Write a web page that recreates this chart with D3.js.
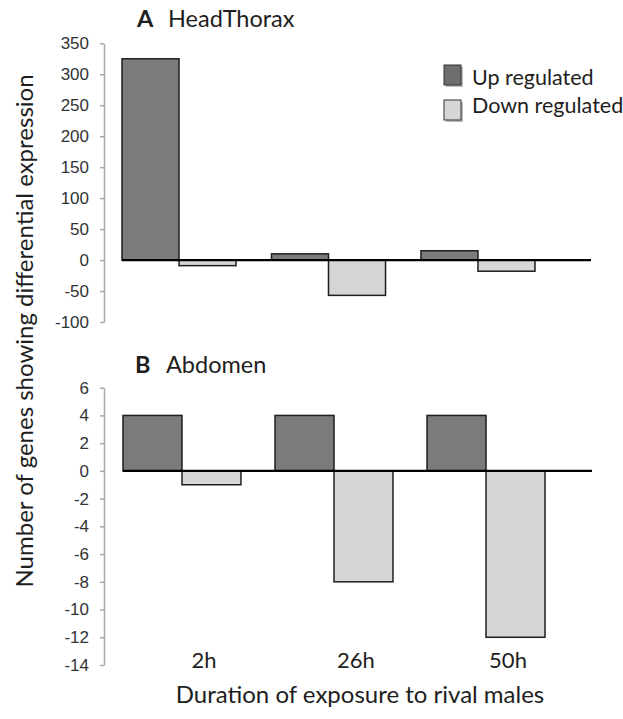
<!DOCTYPE html>
<html>
<head>
<meta charset="utf-8">
<script src="https://cdn.jsdelivr.net/npm/d3@7"></script>
<style>
  body { margin: 0; background: #fff; }
  svg { display: block; }
  .lbl { font-family: Lato, "Open Sans", sans-serif; fill: #1e1e1e; }
  .tick text { font-family: "Liberation Sans", Arial, sans-serif; font-size: 17px; fill: #333; }
</style>
</head>
<body>
<div id="chart"></div>
<script>
  // data
  var times = ["2h", "26h", "50h"]
  var headUp = [325, 10, 15]
  var headDown = [-9, -57, -18]
  var abdUp = [4, 4, 4]
  var abdDown = [-1, -8, -12]
  var headTicks = [-100, -50, 0, 50, 100, 150, 200, 250, 300, 350]
  var abdTicks = [-14, -12, -10, -8, -6, -4, -2, 0, 2, 4, 6]
  var seriesNames = ["Up regulated", "Down regulated"]

  var width = 623
  var height = 719
  var upFill = "#7b7b7b"
  var downFill = "#d6d6d6"

  var svg = d3.select("#chart")
    .append("svg")
    .attr("width", width)
    .attr("height", height)

  function panel(opts) {
    var g = svg.append("g")

    var y = d3.scaleLinear()
      .domain(opts.domain)
      .range(opts.yRange)

    var x = d3.scaleBand()
      .domain(times)
      .range(opts.xRange)
      .paddingInner(opts.pad)
      .paddingOuter(0)

    var sub = d3.scaleBand()
      .domain(["up", "down"])
      .range([0, x.bandwidth()])

    // y axis (plain hyphen minus like the original)
    var axis = g.append("g")
      .attr("transform", "translate(104,0)")
      .call(d3.axisLeft(y)
        .tickValues(opts.ticks)
        .tickFormat(function (d) { return String(d) })
        .tickSizeOuter(0).tickSizeInner(4).tickPadding(11))
    axis.select(".domain").attr("stroke", "#a8a8a8").attr("stroke-width", 1.5)
    axis.selectAll(".tick line").attr("stroke", "#a8a8a8").attr("stroke-width", 1.5)

    var rows = times.map(function (t, i) {
      return [{ t: t, k: "up", v: opts.up[i] }, { t: t, k: "down", v: opts.down[i] }]
    }).flat()

    g.selectAll("rect.bar")
      .data(rows)
      .enter()
      .append("rect")
      .attr("class", "bar")
      .attr("x", function (d) { return x(d.t) + sub(d.k) })
      .attr("width", sub.bandwidth())
      .attr("y", function (d) { return y(Math.max(0, d.v)) })
      .attr("height", function (d) { return Math.abs(y(d.v) - y(0)) })
      .attr("fill", function (d) { return d.k == "up" ? upFill : downFill })
      .attr("stroke", "#1e1e1e")
      .attr("stroke-width", 1.5)

    // zero line
    g.append("line")
      .attr("x1", opts.xRange[0])
      .attr("x2", opts.zeroEnd)
      .attr("y1", y(0))
      .attr("y2", y(0))
      .attr("stroke", "#000")
      .attr("stroke-width", 2.2)

    // panel title
    var title = g.append("text")
      .attr("class", "lbl")
      .attr("y", opts.titleY)
      .style("font-size", "23.5px")
    title.append("tspan").attr("x", opts.titleX).attr("font-weight", "bold").text(opts.letter)
    title.append("tspan").attr("x", opts.titleX + 31).text(opts.title)

    return { x: x, y: y, g: g }
  }

  var a = panel({
    domain: [-100, 350], yRange: [322, 43.3], ticks: headTicks,
    xRange: [122, 535], pad: 0.237, zeroEnd: 591,
    up: headUp, down: headDown,
    letter: "A", title: "HeadThorax", titleX: 137, titleY: 27
  })

  var b = panel({
    domain: [-14, 6], yRange: [665, 387.7], ticks: abdTicks,
    xRange: [123, 545], pad: 0.224, zeroEnd: 592,
    up: abdUp, down: abdDown,
    letter: "B", title: "Abdomen", titleX: 135, titleY: 373
  })

  // category labels under panel B
  svg.selectAll(".cat")
    .data(times)
    .enter()
    .append("text")
    .attr("class", "lbl cat")
    .attr("x", function (d) { return b.x(d) + b.x.bandwidth() / 2 + 22 })
    .attr("y", 668)
    .attr("text-anchor", "middle")
    .style("font-size", "22px")
    .text(function (d) { return d })

  // legend
  var legend = svg.append("g")
  seriesNames.forEach(function (name, i) {
    legend.append("rect")
      .attr("x", 446).attr("y", 67 + i * 35)
      .attr("width", 17).attr("height", 20)
      .attr("fill", "#bbb")
    legend.append("rect")
      .attr("x", 444).attr("y", 65 + i * 35)
      .attr("width", 17).attr("height", 20)
      .attr("fill", i == 0 ? "#6e6e6e" : downFill)
      .attr("stroke", "#333")
      .attr("stroke-width", 1)
    legend.append("text")
      .attr("class", "lbl")
      .attr("x", 472).attr("y", 85 + i * 28)
      .style("font-size", "21.5px")
      .text(name)
  })

  // axis titles
  svg.append("text")
    .attr("class", "lbl")
    .attr("transform", "translate(33,331) rotate(-90)")
    .attr("text-anchor", "middle")
    .style("font-size", "24px")
    .text("Number of genes showing differential expression")

  svg.append("text")
    .attr("class", "lbl")
    .attr("x", 360).attr("y", 703)
    .attr("text-anchor", "middle")
    .style("font-size", "24px")
    .text("Duration of exposure to rival males")
</script>
</body>
</html>
